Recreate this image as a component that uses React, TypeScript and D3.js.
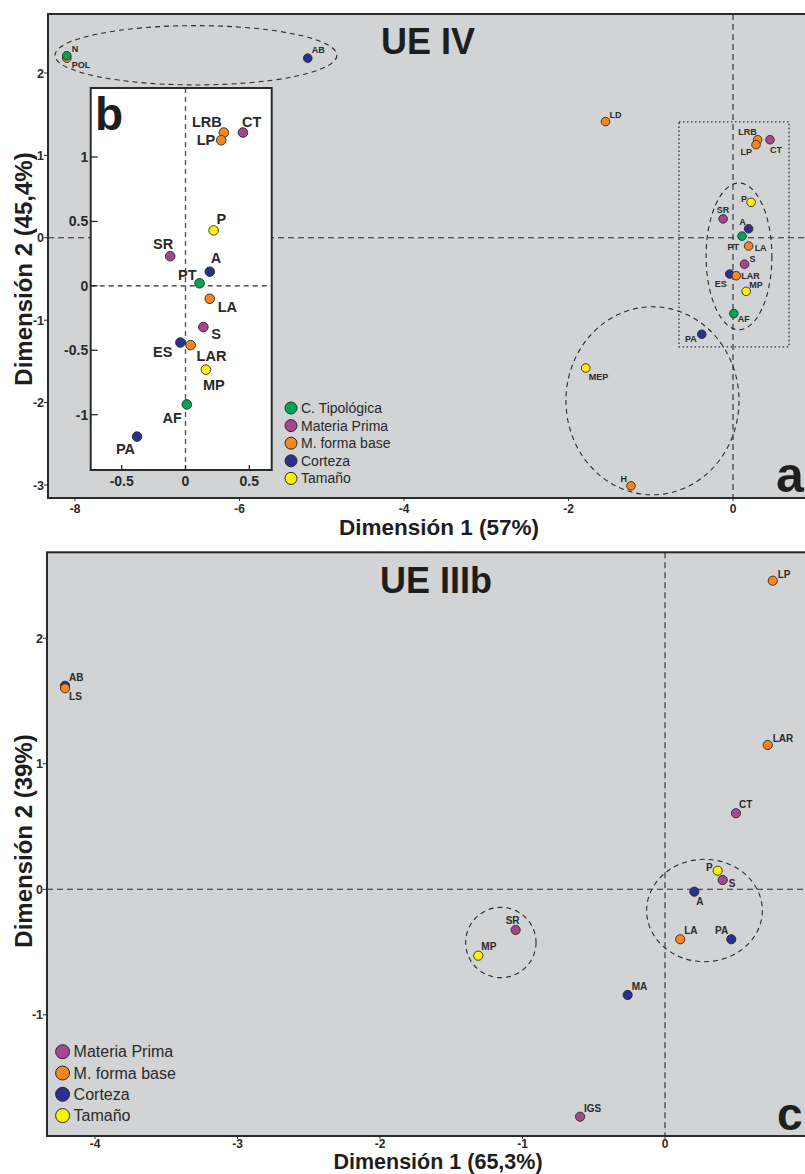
import * as d3 from 'd3';

// categories / legend
const groupNames = ['C. Tipológica', 'Materia Prima', 'M. forma base', 'Corteza', 'Tamaño'];
const groupColors = ['#00a651', '#a4478e', '#f7861f', '#2b2f8f', '#fff200'];

// UE IV (panel a + inset b)
const ue4Names = ['POL', 'N', 'AB', 'LD', 'LRB', 'LP', 'CT', 'P', 'SR', 'A', 'PT', 'LA', 'S', 'ES', 'LAR', 'MP', 'AF', 'PA', 'MEP', 'H'];
const ue4Dim1 = [-8.1, -8.1, -5.17, -1.55, 0.3, 0.28, 0.45, 0.22, -0.12, 0.19, 0.11, 0.19, 0.14, -0.04, 0.04, 0.16, 0.01, -0.38, -1.79, -1.24];
const ue4Dim2 = [2.18, 2.21, 2.18, 1.41, 1.19, 1.13, 1.19, 0.43, 0.23, 0.11, 0.02, -0.1, -0.32, -0.44, -0.46, -0.65, -0.92, -1.17, -1.58, -3.01];
const ue4Group = [2, 0, 3, 2, 2, 2, 1, 4, 1, 3, 0, 2, 1, 3, 2, 4, 0, 3, 4, 2];
const ue4XTicks = [-8, -6, -4, -2, 0];
const ue4YTicks = [-3, -2, -1, 0, 1, 2];
const insetXTicks = [-0.5, 0, 0.5];
const insetYTicks = [-1, -0.5, 0, 0.5, 1];
// ellipses drawn round the groups, in data units [cx, cy, rx, ry]
const ue4Ellipses = [
  [-6.53, 2.215, 1.714, 0.36],
  [0.073, -0.225, 0.4, 0.89],
  [-0.979, -1.978, 1.052, 1.141],
];
// zoom window shown in b [x0, x1, y0, y1]
const ue4Zoom = [-0.657, 0.681, -1.323, 1.408];

// UE IIIb (panel c)
const ue3Names = ['AB', 'LS', 'LP', 'LAR', 'CT', 'P', 'S', 'A', 'SR', 'MP', 'LA', 'PA', 'MA', 'IGS'];
const ue3Dim1 = [-4.21, -4.21, 0.756, 0.721, 0.498, 0.37, 0.405, 0.206, -1.048, -1.31, 0.107, 0.465, -0.262, -0.596];
const ue3Dim2 = [1.622, 1.602, 2.459, 1.15, 0.606, 0.148, 0.074, -0.019, -0.324, -0.529, -0.398, -0.398, -0.842, -1.812];
const ue3Group = [3, 2, 2, 2, 1, 4, 1, 3, 1, 4, 2, 3, 3, 1];
const ue3XTicks = [-4, -3, -2, -1, 0];
const ue3YTicks = [-1, 0, 1, 2];
const ue3Ellipses = [
  [-1.152, -0.424, 0.247, 0.28],
  [0.277, -0.169, 0.406, 0.408],
];

// label placement: [dx, dy, anchor]
type Place = [number, number, string];
const ue4Place: Record<string, Place> = {
  POL: [5, 10, 'start'], N: [5, -4, 'start'], AB: [4, -5, 'start'], LD: [4, -4, 'start'],
  LRB: [-1, -5, 'end'], LP: [-4, 10, 'end'], CT: [0, 13, 'start'], P: [-4, 0, 'end'],
  SR: [0, -6, 'middle'], A: [-3, -4, 'end'], PT: [-3, 14, 'end'], LA: [6, 5, 'start'],
  S: [5, -2, 'start'], ES: [-3, 13, 'end'], LAR: [5, 3, 'start'], MP: [3, -3, 'start'],
  AF: [4, 8, 'start'], PA: [-5, 8, 'end'], MEP: [3, 12, 'start'], H: [-4, -4, 'end'],
};
const insetPlace: Record<string, Place> = {
  LRB: [-2, -6, 'end'], LP: [-6, 5, 'end'], CT: [-1, -6, 'start'], P: [3, -6, 'start'],
  SR: [3, -7, 'end'], A: [1, -9, 'start'], PT: [-3, -3, 'end'], LA: [8, 13, 'start'],
  S: [8, 12, 'start'], ES: [-8, 14, 'end'], LAR: [6, 16, 'start'], MP: [-3, 20, 'start'],
  AF: [-5, 19, 'end'], PA: [-2, 17, 'end'],
};
const ue3Place: Record<string, Place> = {
  AB: [4, -5, 'start'], LS: [4, 12, 'start'], LP: [5, -3, 'start'], LAR: [5, -3, 'start'],
  CT: [3, -5, 'start'], P: [-5, 0, 'end'], S: [6, 7, 'start'], A: [2, 13, 'start'],
  SR: [-3, -6, 'middle'], MP: [3, -6, 'start'], LA: [4, -5, 'start'], PA: [-3, -5, 'end'],
  MA: [4, -5, 'start'], IGS: [4, -5, 'start'],
};

const FONT = "'Liberation Sans', Arial, Helvetica, sans-serif";
const DARK = '#2a2a2a';
const PANEL = '#d1d3d4';

type Scale = d3.ScaleLinear<number, number>;

function Points({ names, d1, d2, grp, x, y, r, place, fs, keep }: any) {
  const idx = names.map((_: string, i: number) => i).filter((i: number) => (keep ? keep(i) : true));
  return (
    <g>
      {idx.map((i: number) => (
        <circle key={'c' + i} cx={x(d1[i])} cy={y(d2[i])} r={r}
          fill={groupColors[grp[i]]} stroke={DARK} strokeWidth={0.9} />
      ))}
      {idx.map((i: number) => {
        const p = place[names[i]];
        return (
          <text key={'t' + i} x={x(d1[i]) + p[0]} y={y(d2[i]) + p[1]} textAnchor={p[2]}
            fontSize={fs} fontWeight="bold" fill={DARK}>{names[i]}</text>
        );
      })}
    </g>
  );
}

function Ellipses({ list, x, y }: { list: number[][]; x: Scale; y: Scale }) {
  return (
    <g>
      {list.map((e, i) => (
        <ellipse key={i} cx={x(e[0])} cy={y(e[1])} rx={x(e[0] + e[2]) - x(e[0])} ry={y(e[1] - e[3]) - y(e[1])}
          fill="none" stroke={DARK} strokeWidth={1.1} strokeDasharray="5,4" />
      ))}
    </g>
  );
}

function Frame({ x, y, xt, yt, left, top, right, bottom, xLabelGap }: any) {
  return (
    <g>
      <rect x={left} y={top} width={right - left} height={bottom - top} fill="none" stroke={DARK} strokeWidth={2} />
      {yt.map((v: number) => (
        <g key={'y' + v}>
          <line x1={left - 4} x2={left} y1={y(v)} y2={y(v)} stroke={DARK} strokeWidth={1} />
          <text x={left - 4} y={y(v) + 4.5} textAnchor="end" fontSize={12.5} fontWeight="bold" fill={DARK}>{v}</text>
        </g>
      ))}
      {xt.map((v: number) => (
        <g key={'x' + v}>
          <line x1={x(v)} x2={x(v)} y1={bottom} y2={bottom + 3} stroke={DARK} strokeWidth={1} />
          <text x={x(v)} y={bottom + xLabelGap} textAnchor="middle" fontSize={12} fontWeight="bold" fill={DARK}>{v}</text>
        </g>
      ))}
    </g>
  );
}

function Legend({ items, cx, cy, step, r, fs }: any) {
  return (
    <g>
      {items.map((gi: number, k: number) => (
        <g key={gi}>
          <circle cx={cx} cy={cy + k * step} r={r} fill={groupColors[gi]} stroke={DARK} strokeWidth={1} />
          <text x={cx + r + 4} y={cy + k * step + fs * 0.36} fontSize={fs} fill={DARK}>{groupNames[gi]}</text>
        </g>
      ))}
    </g>
  );
}

export default function App() {
  // panel a
  const aL = 48, aT = 14, aR = 830, aB = 498;
  const xa = d3.scaleLinear().domain([-8, 0]).range([75, 733]);
  const ya = d3.scaleLinear().domain([-3, 2]).range([485, 73]);
  // inset b
  const bL = 90.7, bT = 88, bR = 271.7, bB = 470;
  const xb = d3.scaleLinear().domain([-0.5, 0.5]).range([121.7, 249.3]);
  const yb = d3.scaleLinear().domain([-1, 1]).range([414.7, 157]);
  // panel c
  const cL = 47, cT = 552.3, cR = 830, cB = 1136;
  const xc = d3.scaleLinear().domain([-4, 0]).range([95, 665]);
  const yc = d3.scaleLinear().domain([-1, 2]).range([1014.8, 638.3]);

  const inZoom = (i: number) =>
    ue4Dim1[i] >= ue4Zoom[0] && ue4Dim1[i] <= ue4Zoom[1] && ue4Dim2[i] >= ue4Zoom[2] && ue4Dim2[i] <= ue4Zoom[3];

  return (
    <svg width={805} height={1174} style={{ position: 'absolute', left: 0, top: 0, display: 'block', background: '#fff' }}
      fontFamily={FONT}>
      <defs>
        <clipPath id="clipA"><rect x={aL} y={aT} width={aR - aL} height={aB - aT} /></clipPath>
        <clipPath id="clipC"><rect x={cL} y={cT} width={cR - cL} height={cB - cT} /></clipPath>
      </defs>

      {/* ---- panel a: UE IV ---- */}
      <rect x={aL} y={aT} width={aR - aL} height={aB - aT} fill={PANEL} />
      <g clipPath="url(#clipA)">
        <line x1={aL} x2={aR} y1={ya(0)} y2={ya(0)} stroke={DARK} strokeWidth={1.1} strokeDasharray="6,4" />
        <line x1={xa(0)} x2={xa(0)} y1={aT} y2={aB} stroke={DARK} strokeWidth={1.1} strokeDasharray="6,4" />
        <Ellipses list={ue4Ellipses} x={xa} y={ya} />
        <rect x={xa(ue4Zoom[0])} y={ya(ue4Zoom[3])} width={xa(ue4Zoom[1]) - xa(ue4Zoom[0])}
          height={ya(ue4Zoom[2]) - ya(ue4Zoom[3])} fill="none" stroke={DARK} strokeWidth={1.3} strokeDasharray="1.5,2.5" />
        <Points names={ue4Names} d1={ue4Dim1} d2={ue4Dim2} grp={ue4Group} x={xa} y={ya} r={4.3} place={ue4Place} fs={9} />
      </g>

      {/* inset b */}
      <rect x={bL} y={bT} width={bR - bL} height={bB - bT} fill="#fff" />
      <line x1={bL} x2={bR} y1={yb(0)} y2={yb(0)} stroke={DARK} strokeWidth={1.1} strokeDasharray="5,4" />
      <line x1={xb(0)} x2={xb(0)} y1={bT} y2={bB} stroke="#555" strokeWidth={1.4} strokeDasharray="5,4" />
      <Points names={ue4Names} d1={ue4Dim1} d2={ue4Dim2} grp={ue4Group} x={xb} y={yb} r={4.8}
        place={insetPlace} fs={14.5} keep={inZoom} />
      <rect x={bL} y={bT} width={bR - bL} height={bB - bT} fill="none" stroke={DARK} strokeWidth={2} />
      {insetYTicks.map((v) => (
        <g key={'by' + v}>
          <line x1={bL} x2={bL + 7} y1={yb(v)} y2={yb(v)} stroke={DARK} strokeWidth={1.3} />
          <text x={bL - 2.5} y={yb(v) + 5} textAnchor="end" fontSize={14} fontWeight="bold" fill={DARK}>{v}</text>
        </g>
      ))}
      {insetXTicks.map((v) => (
        <g key={'bx' + v}>
          <line x1={xb(v)} x2={xb(v)} y1={bB} y2={bB - 5} stroke={DARK} strokeWidth={1.3} />
          <text x={xb(v)} y={bB + 15.5} textAnchor="middle" fontSize={14} fontWeight="bold" fill={DARK}>{v}</text>
        </g>
      ))}
      <text x={95} y={130} fontSize={46} fontWeight="bold" fill="#1e1e1e">b</text>

      <Legend items={[0, 1, 2, 3, 4]} cx={291} cy={408} step={17.6} r={6} fs={14} />
      <text x={381} y={54} fontSize={36} fontWeight="bold" fill="#1e1e1e">UE IV</text>
      <text x={776} y={492} fontSize={50} fontWeight="bold" fill="#1e1e1e">a</text>
      <Frame x={xa} y={ya} xt={ue4XTicks} yt={ue4YTicks} left={aL} top={aT} right={aR} bottom={aB} xLabelGap={14.5} />
      <text x={439} y={535} textAnchor="middle" fontSize={22.5} fontWeight="bold" fill="#1e1e1e">Dimensión 1 (57%)</text>
      <text transform="translate(32,269) rotate(-90)" textAnchor="middle" fontSize={24} fontWeight="bold" fill="#1e1e1e">
        Dimensión 2 (45,4%)
      </text>

      {/* ---- panel c: UE IIIb ---- */}
      <rect x={cL} y={cT} width={cR - cL} height={cB - cT} fill={PANEL} />
      <g clipPath="url(#clipC)">
        <line x1={cL} x2={cR} y1={yc(0)} y2={yc(0)} stroke={DARK} strokeWidth={1.1} strokeDasharray="6,4" />
        <line x1={xc(0)} x2={xc(0)} y1={cT} y2={cB} stroke={DARK} strokeWidth={1.1} strokeDasharray="6,4" />
        <Ellipses list={ue3Ellipses} x={xc} y={yc} />
        <Points names={ue3Names} d1={ue3Dim1} d2={ue3Dim2} grp={ue3Group} x={xc} y={yc} r={4.6} place={ue3Place} fs={10} />
      </g>
      <Legend items={[1, 2, 3, 4]} cx={62.6} cy={1051.7} step={21.3} r={7} fs={16} />
      <text x={380} y={593} fontSize={36} fontWeight="bold" fill="#1e1e1e">UE IIIb</text>
      <text x={777} y={1130} fontSize={46} fontWeight="bold" fill="#1e1e1e">c</text>
      <Frame x={xc} y={yc} xt={ue3XTicks} yt={ue3YTicks} left={cL} top={cT} right={cR} bottom={cB} xLabelGap={11.5} />
      <text x={438} y={1169} textAnchor="middle" fontSize={21.5} fontWeight="bold" fill="#1e1e1e">Dimensión 1 (65,3%)</text>
      <text transform="translate(32,841) rotate(-90)" textAnchor="middle" fontSize={24} fontWeight="bold" fill="#1e1e1e">
        Dimensión 2 (39%)
      </text>
    </svg>
  );
}
